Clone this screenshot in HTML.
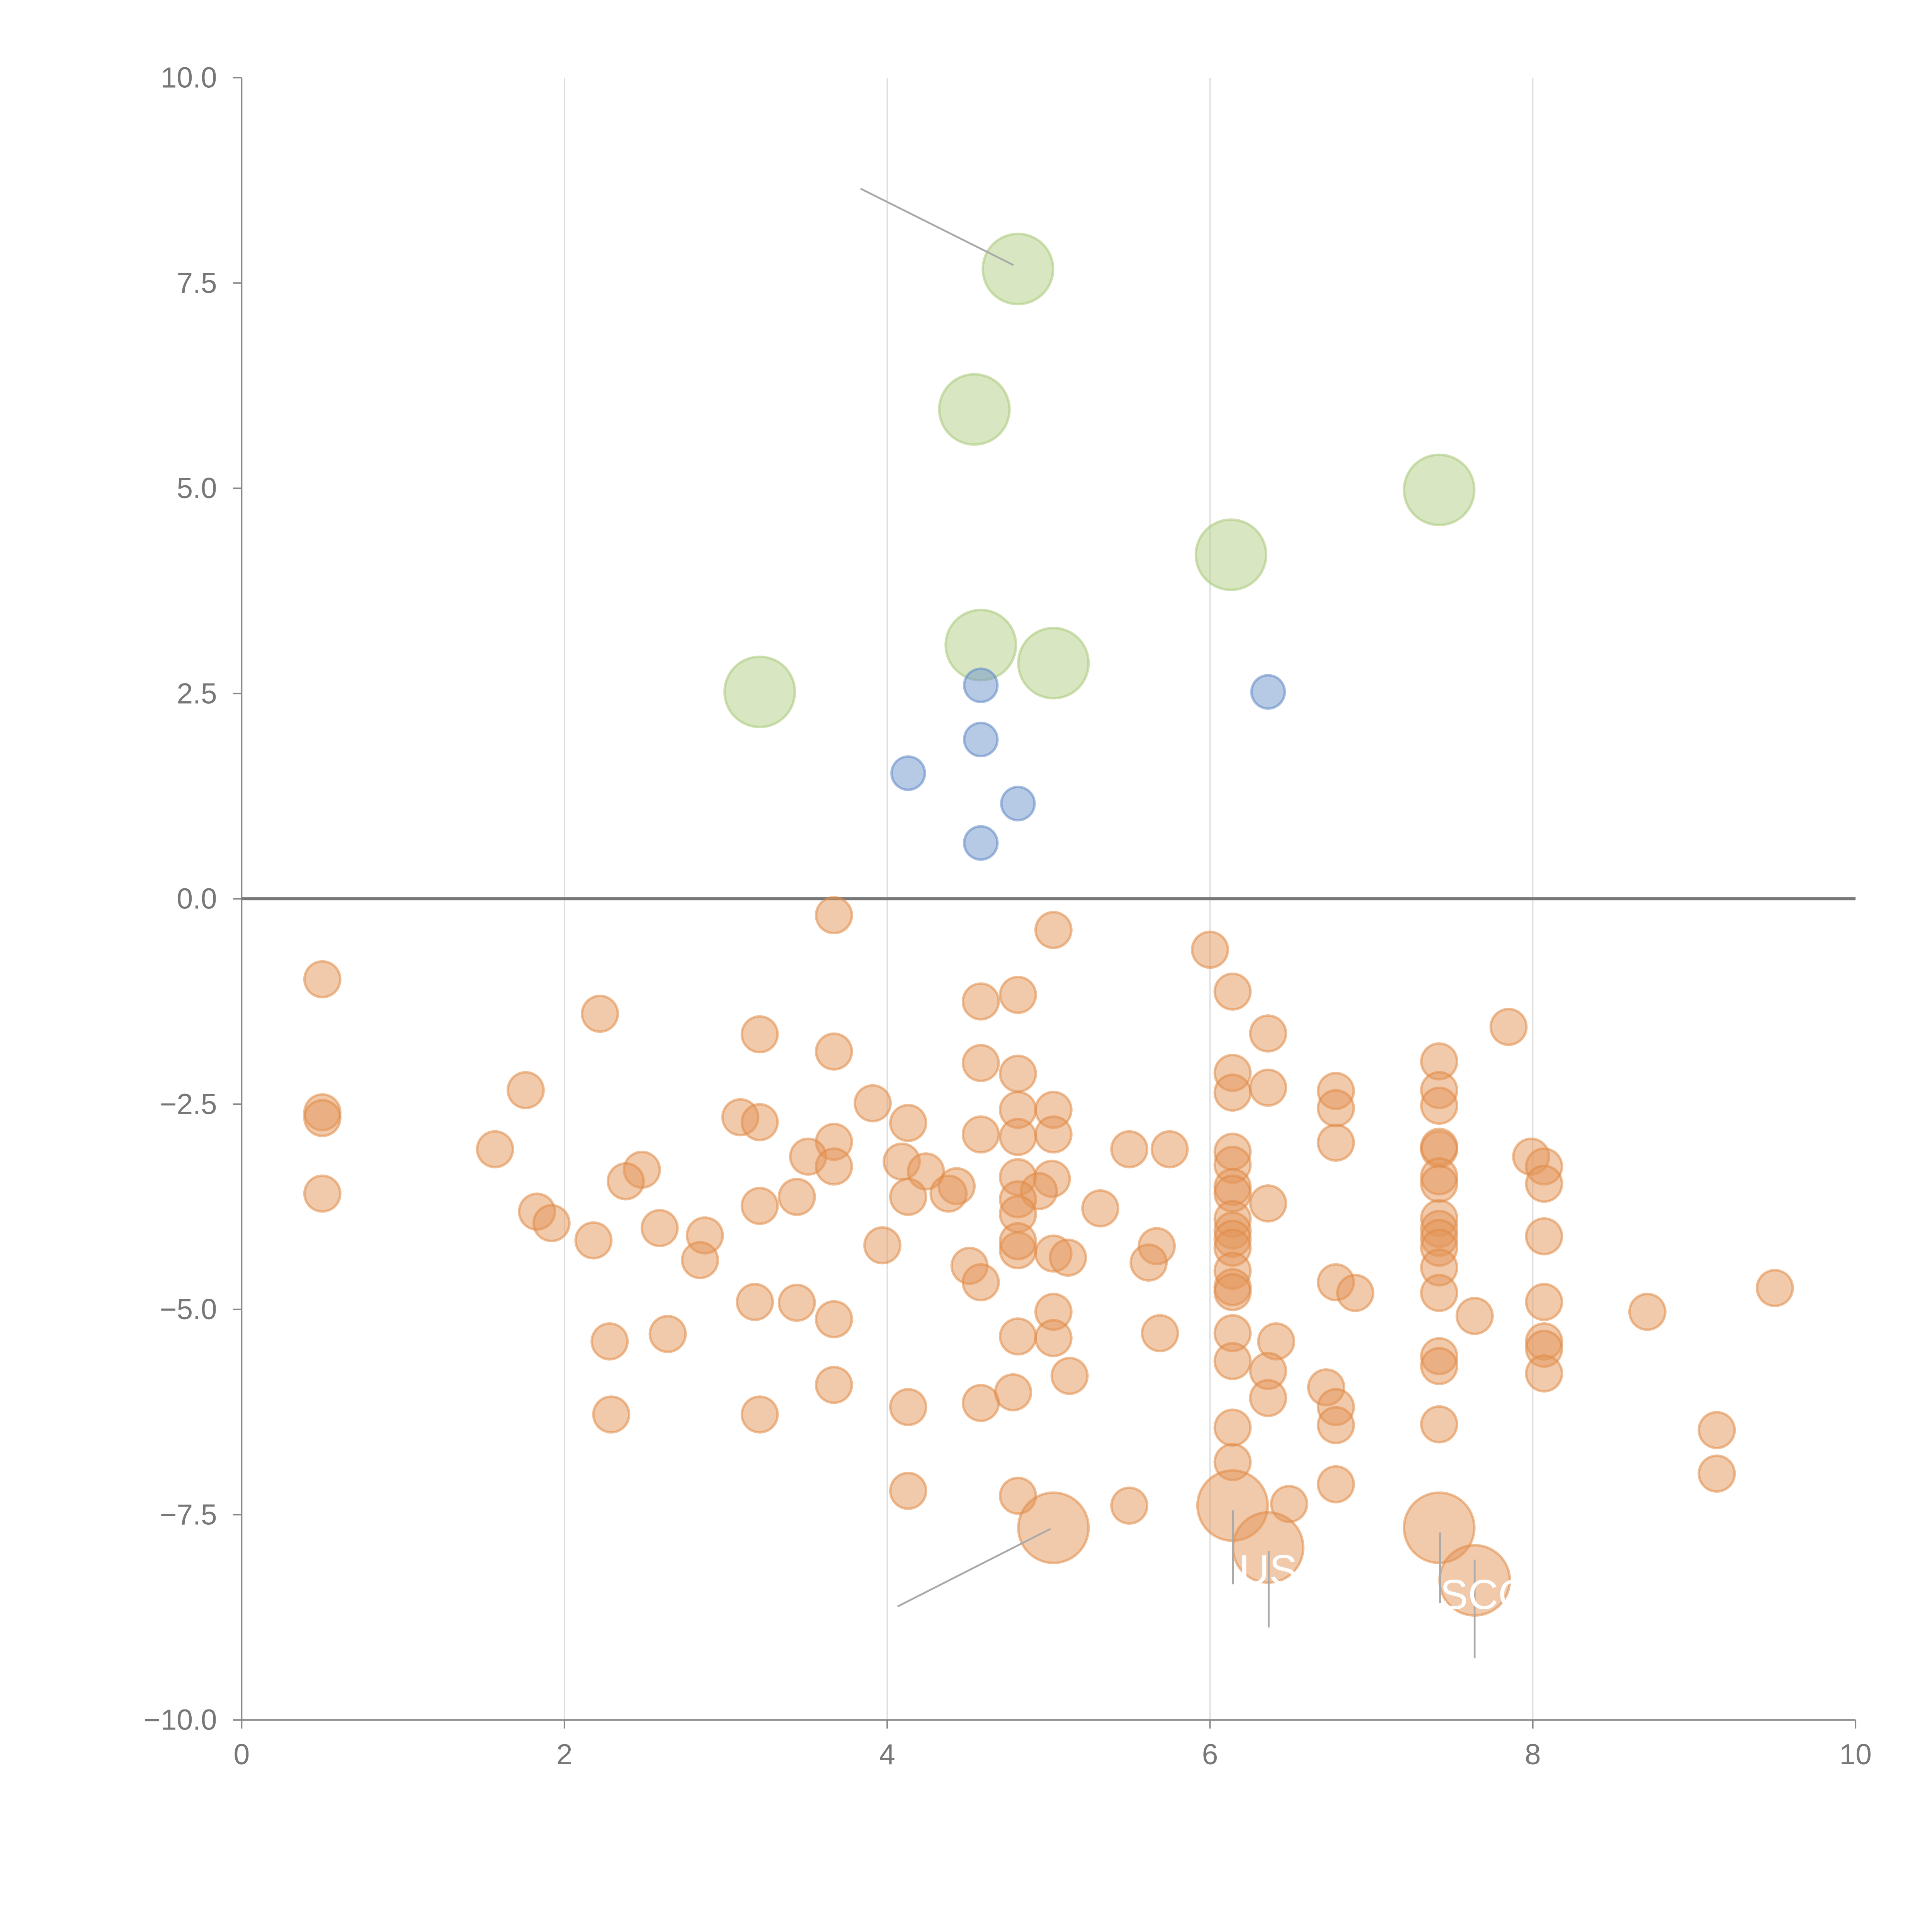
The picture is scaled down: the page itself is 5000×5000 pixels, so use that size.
<!DOCTYPE html>
<html><head><meta charset="utf-8"><style>
html,body{margin:0;padding:0;background:#fff}
svg{display:block}
text{font-family:"Liberation Sans",sans-serif}
</style></head><body>
<svg id="chart" width="5000" height="5000" viewBox="0 0 1567 1567" xmlns="http://www.w3.org/2000/svg">
<g id="grid"></g>
<g id="axes"></g>
<g id="marks"></g>
<g id="annot"></g>
</svg>
<script>
const xTicks=[0,2,4,6,8,10];
const yTicks=[10,7.5,5,2.5,0,-2.5,-5,-7.5,-10];
const yTickLabels=["10.0","7.5","5.0","2.5","0.0","\u22122.5","\u22125.0","\u22127.5","\u221210.0"];
const greenX=[4.81,4.54,7.42,6.13,4.58,5.03,3.21];
const greenY=[7.67,5.96,4.98,4.19,3.09,2.87,2.52];
const blueX=[4.58,4.58,4.13,4.81,4.58,6.36];
const blueY=[2.60,1.94,1.53,1.16,0.68,2.52];
const orangeX=[3.67,5.03,6.00,0.50,6.14,4.58,4.81,2.22,7.85,3.21,6.36,3.67,4.58,7.42,4.81,1.76,6.14,6.14,6.36,6.78,7.42,3.91,4.81,5.03,6.78,7.42,0.50,0.50,3.09,3.21,4.13,4.58,4.81,5.03,3.67,6.78,1.57,5.50,5.75,6.14,7.42,7.42,3.51,4.09,7.99,3.67,6.14,2.48,4.24,8.07,4.81,5.02,2.38,7.42,7.42,8.07,4.43,4.94,6.14,6.14,4.38,0.50,3.44,4.13,4.81,6.36,5.32,3.21,1.83,4.81,1.92,6.14,7.42,7.42,6.14,2.59,2.87,6.14,8.07,2.18,7.42,3.97,5.67,6.14,7.42,4.81,4.81,5.03,5.12,2.84,5.62,4.51,7.42,6.14,6.78,4.58,6.14,6.14,6.90,7.42,3.18,3.44,8.07,5.03,8.71,7.64,9.50,3.67,2.64,5.69,6.14,4.81,5.03,2.28,6.41,8.07,8.07,6.14,7.42,7.42,6.36,5.13,8.07,3.67,6.72,4.78,4.13,4.58,6.36,6.78,2.29,3.21,6.78,6.14,7.42,9.14,6.14,9.14,6.78,4.13,4.81,5.50,6.49];
const orangeY=[-0.20,-0.38,-0.62,-0.98,-1.13,-1.25,-1.17,-1.40,-1.56,-1.65,-1.64,-1.86,-2.00,-1.98,-2.13,-2.33,-2.12,-2.36,-2.30,-2.34,-2.33,-2.49,-2.57,-2.57,-2.55,-2.52,-2.60,-2.67,-2.66,-2.72,-2.73,-2.87,-2.90,-2.87,-2.96,-2.97,-3.05,-3.05,-3.05,-3.08,-3.05,-3.02,-3.14,-3.20,-3.14,-3.26,-3.24,-3.30,-3.32,-3.26,-3.39,-3.41,-3.44,-3.38,-3.47,-3.47,-3.50,-3.56,-3.51,-3.59,-3.59,-3.59,-3.63,-3.63,-3.66,-3.71,-3.77,-3.74,-3.81,-3.84,-3.95,-3.90,-3.89,-4.02,-4.04,-4.01,-4.10,-4.14,-4.11,-4.16,-4.13,-4.22,-4.23,-4.25,-4.25,-4.28,-4.17,-4.32,-4.37,-4.40,-4.43,-4.47,-4.49,-4.53,-4.67,-4.67,-4.73,-4.79,-4.80,-4.80,-4.91,-4.92,-4.91,-5.03,-5.03,-5.08,-4.74,-5.12,-5.30,-5.29,-5.29,-5.33,-5.35,-5.39,-5.39,-5.39,-5.48,-5.63,-5.57,-5.69,-5.75,-5.81,-5.78,-5.92,-5.95,-6.01,-6.19,-6.14,-6.08,-6.19,-6.28,-6.28,-6.41,-6.44,-6.40,-6.47,-6.86,-7.00,-7.13,-7.21,-7.27,-7.39,-7.37];
const bigX=[5.03,6.14,6.36,7.42,7.64];
const bigY=[-7.66,-7.39,-7.90,-7.66,-8.30];

const NS="http://www.w3.org/2000/svg";
const X0=196,X1=1505,Y0=1395,Y1=63;
function sx(v){return X0+(v-0)/(10-0)*(X1-X0);}
function sy(v){return Y0-(v+10)/20*(Y0-Y1);}
function mk(tag,attrs,parent){const e=document.createElementNS(NS,tag);for(const k in attrs)e.setAttribute(k,attrs[k]);parent.appendChild(e);return e;}
const grid=document.getElementById('grid'),axes=document.getElementById('axes'),marks=document.getElementById('marks'),annot=document.getElementById('annot');

xTicks.forEach(t=>{
  if(t>0&&t<10){const l=mk('line',{x1:sx(t),x2:sx(t),y1:Y1,y2:Y0,stroke:'#dcdcdc','stroke-width':1},grid);
  
  }
  const tk=mk('line',{x1:sx(t),x2:sx(t),y1:Y0,y2:Y0+7,stroke:'#888','stroke-width':1.2},axes);
  
  
  const tx=mk('text',{x:sx(t),y:Y0+36,'text-anchor':'middle','font-size':23.5,fill:'#777'},axes);
  tx.textContent=String(t);
  
  
});
yTicks.forEach((t,i)=>{
  const tk=mk('line',{x1:X0-7,x2:X0,y1:sy(t),y2:sy(t),stroke:'#888','stroke-width':1.2},axes);
  
  
  const tx=mk('text',{x:X0-20,y:sy(t)+8,'text-anchor':'end','font-size':23.5,fill:'#777'},axes);
  tx.textContent=yTickLabels[i];
  
  
});
const ya=mk('line',{x1:X0,x2:X0,y1:Y1,y2:Y0,stroke:'#888','stroke-width':1.2},axes);


const xa=mk('line',{x1:X0,x2:X1,y1:Y0,y2:Y0,stroke:'#888','stroke-width':1.2},axes);


const zl=mk('line',{x1:X0,x2:X1,y1:sy(0),y2:sy(0),stroke:'#777','stroke-width':2.5},axes);



function series(xs,ys,r,fill,stroke,name){
  xs.forEach((x,i)=>{
    const c=mk('circle',{cx:sx(x),cy:sy(ys[i]),r:r,fill:fill,'fill-opacity':0.5,stroke:stroke,'stroke-opacity':0.55,'stroke-width':2},marks);
    
    
  });
}
series(orangeX,orangeY,14.5,'#e4955a','#e08a45','orange-bubble');
series(bigX,bigY,28.5,'#e4955a','#e08a45','large-orange-bubble');
series(greenX,greenY,28.5,'#b1cd85','#a9c87a','green-bubble');
series(blueX,blueY,13.5,'#6d93cb','#5f88c4','blue-bubble');

const lines=[[698,153,822,215],[728,1303,852,1240],[1000,1225,1000,1285],[1029,1258,1029,1320],[1168,1243,1168,1300],[1196,1265,1196,1345]];
lines.forEach(l=>{
  const e=mk('line',{x1:l[0],y1:l[1],x2:l[2],y2:l[3],stroke:'#aaa','stroke-width':1.5},annot);
  
  
});
const labs=[[1005,1285,'US'],[1168,1305,'SCO']];
labs.forEach(l=>{
  const t=mk('text',{x:l[0],y:l[1],'font-size':34,fill:'#fff'},annot);
  t.textContent=l[2];
  
  
});
</script>
</body></html>
